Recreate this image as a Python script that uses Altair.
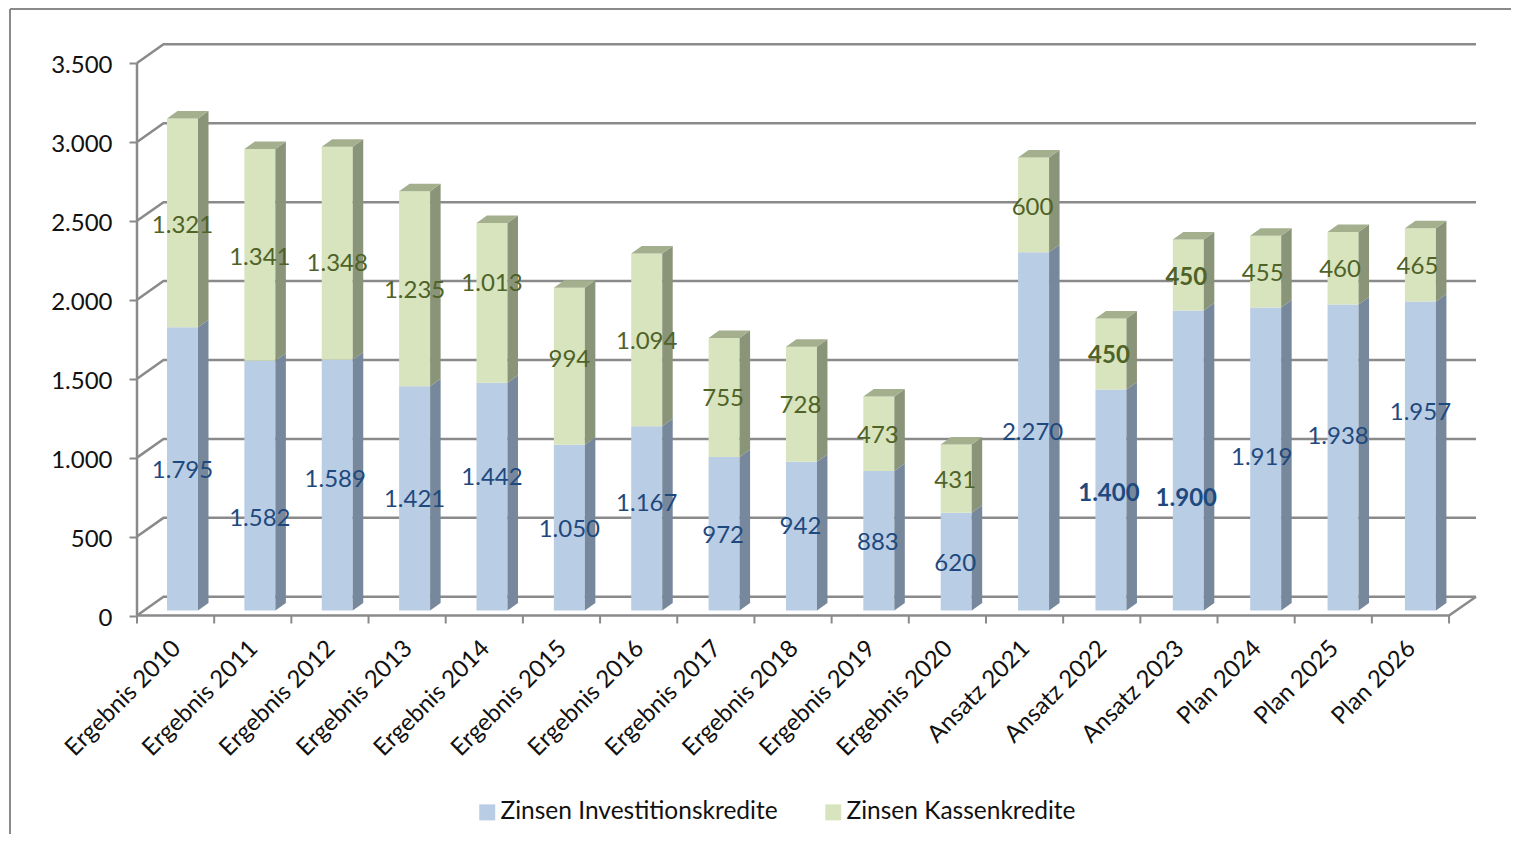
import altair as alt
import pandas as pd

categories = ["Ergebnis 2010", "Ergebnis 2011", "Ergebnis 2012", "Ergebnis 2013", "Ergebnis 2014",
              "Ergebnis 2015", "Ergebnis 2016", "Ergebnis 2017", "Ergebnis 2018", "Ergebnis 2019",
              "Ergebnis 2020", "Ansatz 2021", "Ansatz 2022", "Ansatz 2023", "Plan 2024", "Plan 2025", "Plan 2026"]
invest = [1795, 1582, 1589, 1421, 1442, 1050, 1167, 972, 942, 883, 620, 2270, 1400, 1900, 1919, 1938, 1957]
kasse = [1321, 1341, 1348, 1235, 1013, 994, 1094, 755, 728, 473, 431, 600, 450, 450, 455, 460, 465]
bold_cats = ["Ansatz 2022", "Ansatz 2023"]
series = ["Zinsen Investitionskredite", "Zinsen Kassenkredite"]
y_ticks = [0, 500, 1000, 1500, 2000, 2500, 3000, 3500]

# label displacement from the centre of each segment, in pixels (up is negative)
invest_shift_y = [0, 31, -7, 0, -21, 0, -16, 0, -11, 0, 0, 0, -8, 36, -3, -23, -45]
invest_shift_x = [0, 0, -2, 0, 0, 0, 0, -1, -1, -1, -1, -1, -2, -2, -4, -5, 0]
kasse_shift_y = [1, 1, 9, 0, -21, -8, 0, 0, 0, 0, 0, 1, 0, 1, 0, 0, 0]
kasse_shift_x = [0, 0, 0, 0, 0, 0, 0, -1, -1, -1, -1, -1, -2, -2, -3, -3, -3]

# geometry of the pseudo-3D scene
FONT = "Lato"
SLOT = 77.18        # px per category on the front axis
PX_Y = 0.15786      # px per value unit
PLOT_W = 1476 - 137
PLOT_H = 615.5 - 43
X_MAX = PLOT_W / SLOT
Y_MAX = PLOT_H / PX_Y
WALL_DX, WALL_DY = 26.5 / SLOT, 18.7 / PX_Y
BAR_DX, BAR_DY = 10.5 / SLOT, 7.5 / PX_Y
BAR_START, BAR_STEP, BAR_W = 30 / SLOT, 77.37 / SLOT, 31 / SLOT
BAR_BASE = 5 / PX_Y

BLUE, GREEN = "#B9CDE5", "#D7E4BD"
BLUE_SIDE, GREEN_SIDE = "#77889C", "#8A9478"
GREEN_TOP = "#A4AF8E"
BLUE_TEXT, GREEN_TEXT = "#1F497D", "#4F6228"
GREY = "#8A8A8A"

x_scale = alt.Scale(domain=[0, X_MAX], nice=False, zero=False)
y_scale = alt.Scale(domain=[0, Y_MAX], nice=False, zero=False)

label_expr = "[" + ",".join(f"'{c}'" for c in categories) + "][round(datum.value-0.5)]"
x_axis = alt.Axis(
    values=[i + 0.5 for i in range(len(categories))], labelExpr=label_expr, title=None, grid=False,
    domain=False, ticks=False, labelAngle=-45, labelAlign="right", labelBaseline="middle",
    labelFont=FONT, labelFontSize=24, labelColor="#111111", labelPadding=29, labelOffset=1,
    labelOverlap=False, labelFlush=False, labelBound=False)
y_axis = alt.Axis(
    values=y_ticks, labelExpr="replace(format(datum.value, ','), ',', '.')", title=None, grid=False,
    domain=False, tickSize=8, tickWidth=2, tickColor=GREY, labelFont=FONT, labelFontSize=24,
    labelColor="#111111", labelPadding=17, labelOffset=2.5, labelOverlap=False, labelFlush=False, labelBound=False)


def X(field="x"):
    return alt.X(f"{field}:Q", scale=x_scale, axis=x_axis)


def Y(field="y"):
    return alt.Y(f"{field}:Q", scale=y_scale, axis=y_axis)


# wall and floor lines
wall_rows = []
for v in y_ticks:
    wall_rows += [
        {"id": f"g{v}", "o": 0, "x": 0, "y": v},
        {"id": f"g{v}", "o": 1, "x": WALL_DX, "y": v + WALL_DY},
        {"id": f"g{v}", "o": 2, "x": X_MAX, "y": v + WALL_DY},
    ]
wall_rows += [{"id": "axis", "o": 0, "x": 0, "y": 0}, {"id": "axis", "o": 1, "x": 0, "y": 3500}]
wall_rows += [
    {"id": "floor", "o": 0, "x": 0, "y": 0},
    {"id": "floor", "o": 1, "x": len(categories), "y": 0},
    {"id": "floor", "o": 2, "x": X_MAX, "y": WALL_DY},
]
walls = alt.Chart(pd.DataFrame(wall_rows)).mark_line(color=GREY, strokeWidth=2.5).encode(
    x=X(), y=Y(), detail="id:N", order="o:Q"
)

# front faces, side faces, top faces
fronts, sides, tops, labels = [], [], [], []
for i, cat in enumerate(categories):
    x0 = BAR_START + i * BAR_STEP
    x1 = x0 + BAR_W
    base = BAR_BASE
    for name, val, side, text, sx, sy in (
        (series[0], invest[i], BLUE_SIDE, BLUE_TEXT, invest_shift_x[i], invest_shift_y[i]),
        (series[1], kasse[i], GREEN_SIDE, GREEN_TEXT, kasse_shift_x[i], kasse_shift_y[i]),
    ):
        top = base + val
        fronts.append({"x": x0, "x2": x1, "y": base, "y2": top, "series": name})
        sid = f"{i}-{name}"
        sides.append({"id": sid, "x": x1, "y": base, "y2": top, "face": side})
        sides.append({"id": sid, "x": x1 + BAR_DX, "y": base + BAR_DY, "y2": top + BAR_DY, "face": side})
        labels.append({
            "x": (x0 + x1) / 2 + sx / SLOT,
            "y": (base + top) / 2 - sy / PX_Y,
            "t": f"{val:,}".replace(",", "."),
            "color": text,
            "bold": cat in bold_cats,
        })
        base = top
    tid = f"t{i}"
    tops += [
        {"id": tid, "x": x0, "y": base, "y2": base},
        {"id": tid, "x": x0 + BAR_DX, "y": base, "y2": base + BAR_DY},
        {"id": tid, "x": x1, "y": base, "y2": base + BAR_DY},
        {"id": tid, "x": x1 + BAR_DX, "y": base + BAR_DY, "y2": base + BAR_DY},
    ]

df_sides = pd.DataFrame(sides)
side_layers = [
    alt.Chart(df_sides[df_sides.face == c]).mark_area(color=c, orient="vertical").encode(
        x=X(), y=Y(), y2="y2:Q", detail="id:N"
    )
    for c in (BLUE_SIDE, GREEN_SIDE)
]
top_layer = alt.Chart(pd.DataFrame(tops)).mark_area(color=GREEN_TOP, orient="vertical").encode(
    x=X(), y=Y(), y2="y2:Q", detail="id:N"
)

front_layer = alt.Chart(pd.DataFrame(fronts)).mark_rect().encode(
    x=X(),
    x2="x2:Q",
    y=Y(),
    y2="y2:Q",
    color=alt.Color("series:N", scale=alt.Scale(domain=series, range=[BLUE, GREEN]), legend=alt.Legend(
        title=None, orient="none", legendX=338, legendY=757, direction="horizontal", columns=2,
        symbolType="square", symbolSize=256, symbolStrokeWidth=0, labelFont=FONT, labelFontSize=24.5,
        labelColor="#111111", columnPadding=43, labelOffset=1, symbolOpacity=1, labelLimit=400)),
)

# tick marks on the category axis
ticks = alt.Chart(pd.DataFrame({"x": list(range(len(categories) + 1))})).mark_rule(color=GREY, strokeWidth=2).encode(
    x=X(), y=alt.value(PLOT_H), y2=alt.value(PLOT_H + 8)
)

df_labels = pd.DataFrame(labels)
text_layers = []
for c in (BLUE_TEXT, GREEN_TEXT):
    for b in (False, True):
        sub = df_labels[(df_labels.color == c) & (df_labels.bold == b)]
        text_layers.append(
            alt.Chart(sub).mark_text(color=c, font=FONT, fontSize=24, dy=2,
                                     fontWeight="bold" if b else "normal").encode(
                x=X(), y=Y(), text="t:N"
            )
        )

# outer frame of the picture
frame_top = alt.Chart(pd.DataFrame({"a": [0]})).mark_rule(color=GREY, strokeWidth=2).encode(
    x=alt.value(-127), x2=alt.value(1511 - 137), y=alt.value(-34)
)
frame_left = alt.Chart(pd.DataFrame({"a": [0]})).mark_rule(color=GREY, strokeWidth=2).encode(
    x=alt.value(-127), y=alt.value(-34), y2=alt.value(834 - 43)
)

chart = alt.layer(
    walls, ticks, frame_top, frame_left, front_layer, *side_layers, top_layer, *text_layers
).properties(
    width=PLOT_W, height=PLOT_H, padding={"left": 1, "top": 0, "right": 0, "bottom": 0}
).configure_view(stroke=None)

chart.save("out.html", embed_options={"renderer": "svg", "actions": False})
